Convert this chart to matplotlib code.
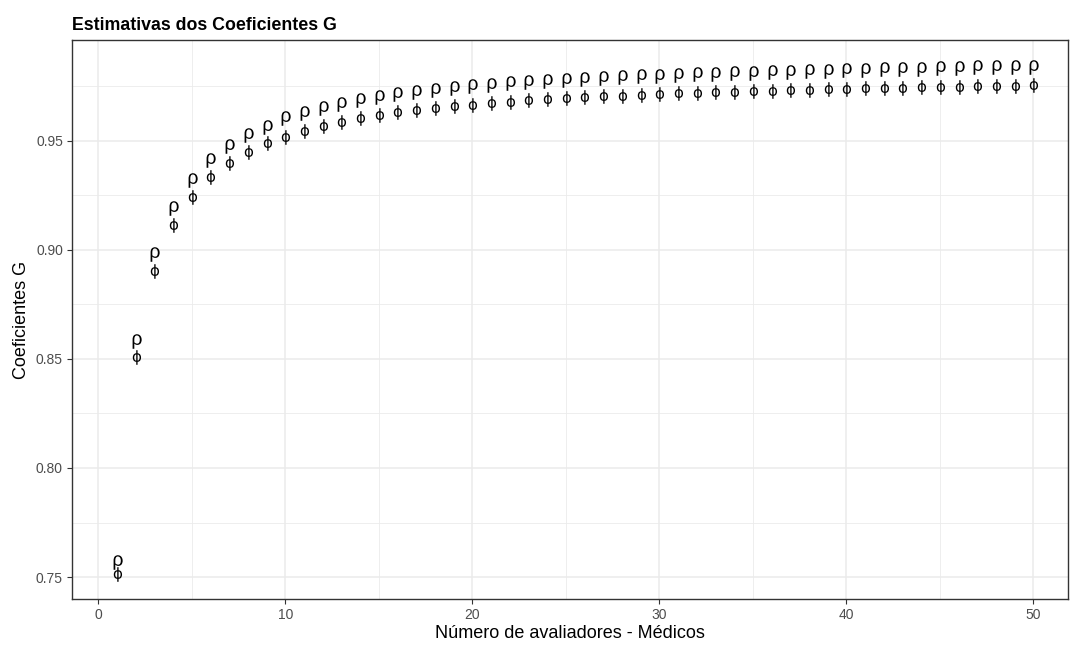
import matplotlib
matplotlib.use('Agg')
import matplotlib.pyplot as plt
from matplotlib.textpath import TextPath
from matplotlib.font_manager import FontProperties
from matplotlib.path import Path
import numpy as np

plt.rcParams['font.family'] = ['Liberation Sans', 'DejaVu Sans']

# number of raters (doctors)
n_raters = list(range(1, 51))

# relative G coefficient (rho)
rho = [0.7571, 0.8583, 0.8979, 0.9190, 0.9322, 0.9411, 0.9476, 0.9525, 0.9563, 0.9604,
       0.9627, 0.9650, 0.9668, 0.9686, 0.9700, 0.9713, 0.9724, 0.9734, 0.9743, 0.9750,
       0.9757, 0.9764, 0.9769, 0.9775, 0.9779, 0.9784, 0.9788, 0.9791, 0.9795, 0.9798,
       0.9801, 0.9804, 0.9807, 0.9810, 0.9812, 0.9815, 0.9817, 0.9820, 0.9822, 0.9825,
       0.9826, 0.9828, 0.9830, 0.9831, 0.9833, 0.9835, 0.9836, 0.9838, 0.9839, 0.9840]

# absolute G coefficient (phi)
phi = [0.7514, 0.8508, 0.8903, 0.9114, 0.9243, 0.9335, 0.9399, 0.9447, 0.9488, 0.9518,
       0.9544, 0.9567, 0.9584, 0.9603, 0.9617, 0.9630, 0.9641, 0.9650, 0.9659, 0.9666,
       0.9673, 0.9679, 0.9685, 0.9690, 0.9695, 0.9699, 0.9703, 0.9707, 0.9710, 0.9714,
       0.9717, 0.9720, 0.9722, 0.9725, 0.9727, 0.9730, 0.9732, 0.9734, 0.9736, 0.9738,
       0.9740, 0.9742, 0.9744, 0.9745, 0.9747, 0.9748, 0.9750, 0.9751, 0.9752, 0.9754]

x_ticks = [0, 10, 20, 30, 40, 50]
y_ticks = [0.75, 0.80, 0.85, 0.90, 0.95]


def glyph_marker(ch, family):
    # text glyph as a marker path centred on its ink box
    tp = TextPath((0, 0), ch, size=10, prop=FontProperties(family=family))
    v = tp.vertices.copy()
    v -= (v.min(axis=0) + v.max(axis=0)) / 2
    return Path(v, tp.codes)


rho_marker = glyph_marker('ρ', 'Liberation Sans')
phi_marker = glyph_marker('ϕ', 'DejaVu Sans')

fig = plt.figure(figsize=(10.75, 6.45), dpi=100)
ax = fig.add_axes([72/1075, 1 - 599.3/645, (1068 - 72)/1075, (599.3 - 40)/645])

ax.plot(n_raters, rho, linestyle='none', marker=rho_marker, markersize=10.5,
        color='black', markeredgewidth=0)
ax.plot(n_raters, phi, linestyle='none', marker=phi_marker, markersize=10.5,
        color='black', markeredgewidth=0)

ax.set_xlim(-1.4, 51.85)
ax.set_ylim(0.7398, 0.9962)

ax.set_xticks(x_ticks)
ax.set_yticks(y_ticks)
ax.set_yticklabels(['%.2f' % v for v in y_ticks])
ax.set_xticks([5, 15, 25, 35, 45], minor=True)
ax.set_yticks([0.775, 0.825, 0.875, 0.925, 0.975], minor=True)

ax.grid(which='major', color='#EBEBEB', linewidth=1.1)
ax.grid(which='minor', color='#EBEBEB', linewidth=0.6)
ax.set_axisbelow(True)

for s in ax.spines.values():
    s.set_color('#333333')
    s.set_linewidth(1.0)

ax.tick_params(which='major', length=3.5, width=0.8, color='#333333',
               labelsize=10, labelcolor='#4D4D4D', pad=3)
ax.tick_params(which='minor', length=0)

ax.set_xlabel('Número de avaliadores - Médicos', fontsize=13, labelpad=2)
ax.set_ylabel('Coeficientes G', fontsize=13, labelpad=4)
ax.set_title('Estimativas dos Coeficientes G', fontsize=12.8, fontweight='bold',
             loc='left', pad=7)

fig.savefig('out.png', dpi=100)
